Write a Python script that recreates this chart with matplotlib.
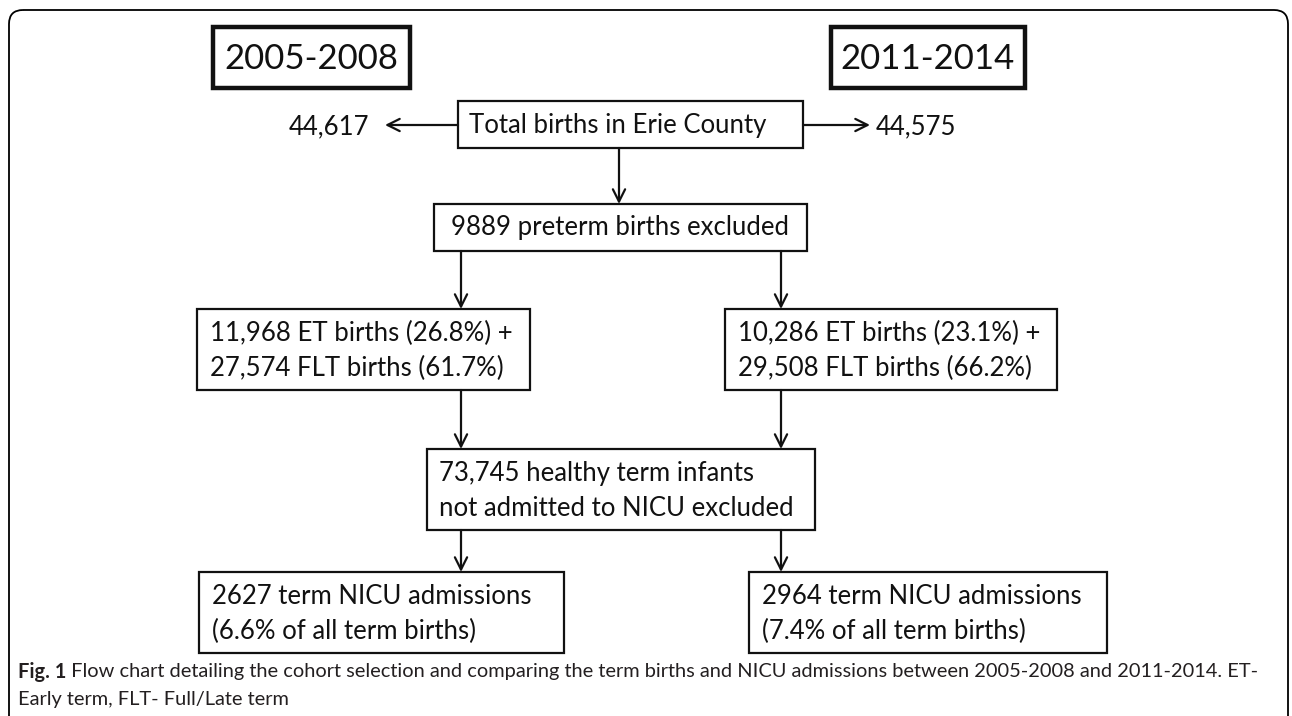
import matplotlib
matplotlib.use('Agg')
import matplotlib.pyplot as plt
from matplotlib.patches import Rectangle, FancyBboxPatch

plt.rcParams['font.family'] = ['Lato', 'DejaVu Sans']

# chart content
periods = ['2005-2008', '2011-2014']
total_label = 'Total births in Erie County'
total_births = ['44,617', '44,575']
preterm_label = '9889 preterm births excluded'
term_births = ['11,968 ET births (26.8%) +\n27,574 FLT births (61.7%)',
               '10,286 ET births (23.1%) +\n29,508 FLT births (66.2%)']
healthy_label = '73,745 healthy term infants\nnot admitted to NICU excluded'
nicu = ['2627 term NICU admissions\n(6.6% of all term births)',
        '2964 term NICU admissions\n(7.4% of all term births)']
caption_bold = 'Fig. 1'
caption_1 = (' Flow chart detailing the cohort selection and comparing the term births '
             'and NICU admissions between 2005-2008 and 2011-2014. ET-')
caption_2 = 'Early term, FLT- Full/Late term'

W, H = 1292, 716
fig = plt.figure(figsize=(W / 100, H / 100), dpi=100)
ax = fig.add_axes([0, 0, 1, 1])
ax.set_xlim(0, W)
ax.set_ylim(H, 0)
ax.axis('off')

# outer rounded frame (bottom runs off the page)
ax.add_patch(FancyBboxPatch((9, 10), 1279, 760, boxstyle='round,pad=0,rounding_size=14',
                            fc='none', ec='black', lw=1.3))

def box(x0, y0, x1, y1, lw=1.6):
    ax.add_patch(Rectangle((x0, y0), x1 - x0, y1 - y0, fc='white', ec='#111111', lw=lw))

def arrow(x0, y0, x1, y1):
    ax.annotate('', xy=(x1, y1), xytext=(x0, y0),
                arrowprops=dict(arrowstyle='->', lw=1.6, color='#111111',
                                mutation_scale=22, shrinkA=0, shrinkB=0))

fs = 18.5
tc = '#111111'
ls = 1.45

# period headers
for (x0, x1), lab in zip([(213, 410), (831, 1025)], periods):
    box(x0, 27, x1, 88, lw=3.2)
    ax.text((x0 + x1) / 2, 59, lab, ha='center', va='center', fontsize=25, color=tc)

# total births
box(458, 101, 803, 148)
ax.text(618, 125, total_label, ha='center', va='center', fontsize=fs, color=tc)
arrow(458, 125, 385, 125)
arrow(803, 125, 870, 125)
ax.text(369, 127, total_births[0], ha='right', va='center', fontsize=fs, color=tc)
ax.text(876, 127, total_births[1], ha='left', va='center', fontsize=fs, color=tc)

# preterm
arrow(619, 148, 619, 204)
box(434, 204, 807, 251)
ax.text(620, 228, preterm_label, ha='center', va='center', fontsize=fs, color=tc)

cols = [461, 781]
# term births
for cx, (x0, x1), lab in zip(cols, [(197, 530), (725, 1057)], term_births):
    arrow(cx, 251, cx, 309)
    box(x0, 309, x1, 390)
    ax.text(x0 + 13, 351, lab, ha='left', va='center', fontsize=fs, color=tc,
            linespacing=ls)
    arrow(cx, 390, cx, 449)

# healthy excluded
box(427, 449, 815, 530)
ax.text(439, 491, healthy_label, ha='left', va='center', fontsize=fs, color=tc,
        linespacing=ls)

# NICU admissions
for cx, (x0, x1), lab in zip(cols, [(199, 564), (749, 1107)], nicu):
    arrow(cx, 530, cx, 572)
    box(x0, 572, x1, 653)
    ax.text(x0 + 13, 614, lab, ha='left', va='center', fontsize=fs, color=tc,
            linespacing=ls)

# caption
cfs = 14.4
cap = ax.text(18, 672, caption_bold, ha='left', va='center', fontsize=cfs,
              fontweight='bold', color='#231f20')
fig.canvas.draw()
bb = cap.get_window_extent()
ax.text(18 + bb.width, 672, caption_1, ha='left', va='center', fontsize=cfs, color='#231f20')
ax.text(18, 700, caption_2, ha='left', va='center', fontsize=cfs, color='#231f20')

fig.savefig('out.png', dpi=100)
